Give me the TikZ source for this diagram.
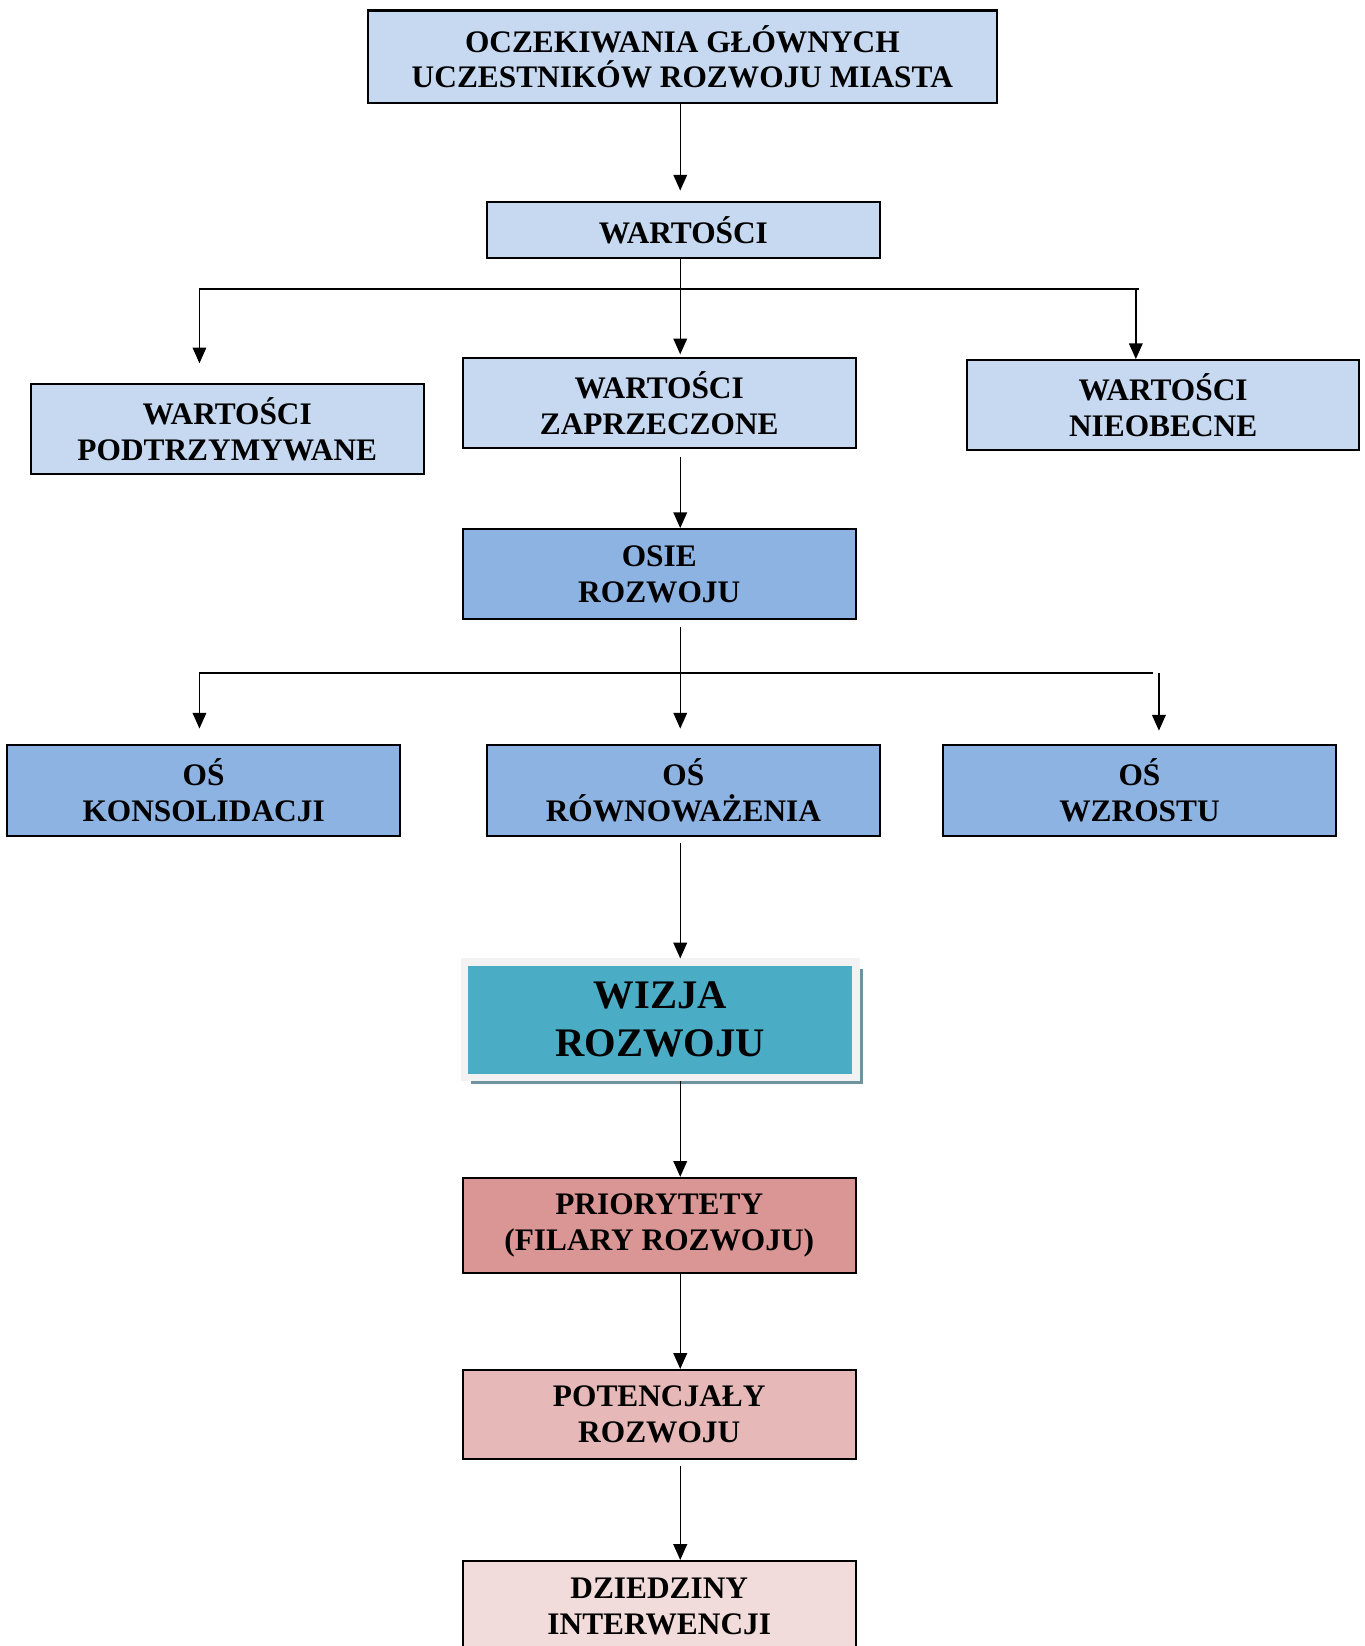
\documentclass[tikz,border=0pt]{standalone}
\usepackage{fontspec}
\setmainfont{Liberation Serif}
\usetikzlibrary{positioning,arrows.meta,shadows}

\definecolor{valblue}{HTML}{C6D9F1}
\definecolor{axisblue}{HTML}{8DB3E2}
\definecolor{visionteal}{HTML}{4BACC6}
\definecolor{visionframe}{HTML}{F2F2F2}
\definecolor{visionshadow}{HTML}{6F939C}
\definecolor{prioritypink}{HTML}{D99694}
\definecolor{potentialpink}{HTML}{E6B9B8}
\definecolor{domainpink}{HTML}{F2DCDB}

\begin{document}
\begin{tikzpicture}[x=0.02cm, y=-0.02cm,
    >={Triangle[width=0.26cm,length=0.3cm]},
    box/.style={draw, rectangle, line width=1.1pt, align=center, inner sep=0pt,
      minimum width=7.48cm, minimum height=1.72cm,
      font=\bfseries\fontsize{17}{19.4}\selectfont},
    link/.style={->, line width=0.8pt},
    bar/.style={line width=1.1pt}]
    \useasboundingbox (0,0) rectangle (1300,1568);
    \clip (0,0) rectangle (1300,1568);

    % values
    \node (oczekiwania) [box, fill=valblue, minimum width=11.98cm, minimum height=1.76cm] at (650,54) {OCZEKIWANIA GŁÓWNYCH\\UCZESTNIKÓW ROZWOJU MIASTA};
    \node (wartosci) [box, fill=valblue, minimum height=1.06cm] at (651,219) {WARTOŚCI};
    \node (podtrzymywane) [box, fill=valblue] at (216.5,409) {WARTOŚCI\\PODTRZYMYWANE};
    \node (zaprzeczone) [box, fill=valblue] at (628,384) {WARTOŚCI\\ZAPRZECZONE};
    \node (nieobecne) [box, fill=valblue] at (1108,386) {WARTOŚCI\\NIEOBECNE};

    % axes
    \node (osie) [box, fill=axisblue] at (628,547) {OSIE\\ROZWOJU};
    \node (konsolidacja) [box, fill=axisblue] at (194,753) {OŚ\\KONSOLIDACJI};
    \node (rownowazenie) [box, fill=axisblue] at (651,753) {OŚ\\RÓWNOWAŻENIA};
    \node (wzrost) [box, fill=axisblue] at (1085.5,753) {OŚ\\WZROSTU};

    % vision and below
    \node (wizja) [rectangle, align=center, fill=visionteal, draw=visionframe, line width=0.14cm,
      minimum width=7.46cm, minimum height=2.2cm,
      drop shadow={shadow xshift=0.13cm, shadow yshift=-0.13cm, fill=visionshadow, opacity=1},
      font=\bfseries\fontsize{22}{26}\selectfont] at (629,971.5) {WIZJA\\ROZWOJU};
    \node (priorytety) [box, fill=prioritypink, minimum height=1.82cm] at (628,1167.5) {PRIORYTETY\\(FILARY ROZWOJU)};
    \node (potencjaly) [box, fill=potentialpink, minimum height=1.7cm] at (628,1347.5) {POTENCJAŁY\\ROZWOJU};
    \node (dziedziny) [box, fill=domainpink] at (628,1530) {DZIEDZINY\\INTERWENCJI};

    \coordinate (spine) at (648,0);
    \coordinate (valuesL) at (190,275);
    \coordinate (valuesR) at (1085,275);
    \coordinate (valuesDrop) at (1082,275);
    \coordinate (axesL) at (190,641);
    \coordinate (axesR) at (1098,641);
    \coordinate (axesDrop) at (1104,641);

    \draw[link, shorten >=0.2cm] (oczekiwania.south -| spine) -- (wartosci.north -| spine);
    \draw[link, shorten >=0.05cm] (wartosci.south -| spine) -- (zaprzeczone.north -| spine);
    \draw[bar] (valuesL) -- (valuesR);
    \draw[link, shorten >=0.38cm] (valuesL) -- (valuesL |- podtrzymywane.north);
    \draw[link] (valuesDrop) -- (valuesDrop |- nieobecne.north);

    \draw[link, shorten <=0.14cm] (zaprzeczone.south -| spine) -- (osie.north -| spine);
    \draw[link, shorten <=0.12cm, shorten >=0.3cm] (osie.south -| spine) -- (rownowazenie.north -| spine);
    \draw[bar] (axesL) -- (axesR);
    \draw[link, shorten >=0.3cm] (axesL) -- (axesL |- konsolidacja.north);
    \draw[link, shorten >=0.26cm] (axesDrop) -- (axesDrop |- wzrost.north);

    \draw[link, shorten <=0.12cm] (rownowazenie.south -| spine) -- (wizja.north -| spine);
    \draw[link] (wizja.south -| spine) -- (priorytety.north -| spine);
    \draw[link] (priorytety.south -| spine) -- (potencjaly.north -| spine);
    \draw[link, shorten <=0.12cm] (potencjaly.south -| spine) -- (dziedziny.north -| spine);
\end{tikzpicture}
\end{document}
